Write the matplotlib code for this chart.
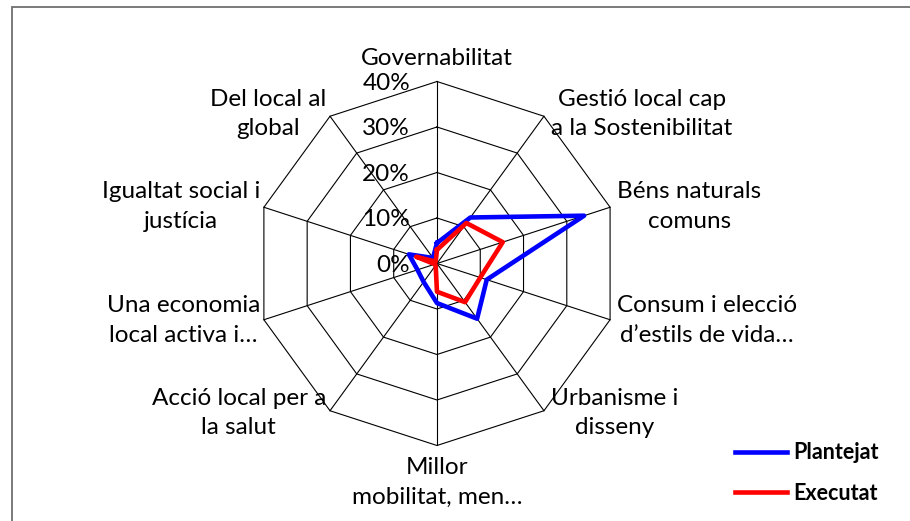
import numpy as np
import matplotlib
matplotlib.use('Agg')
import matplotlib.pyplot as plt
from matplotlib.patches import Rectangle
from matplotlib.lines import Line2D

categories = ['Governabilitat', 'Gestió local cap\na la Sostenibilitat', 'Béns naturals\ncomuns',
              'Consum i elecció\nd’estils de vida…', 'Urbanisme i\ndisseny', 'Millor\nmobilitat, men…',
              'Acció local per a\nla salut', 'Una economia\nlocal activa i…', 'Igualtat social i\njustícia',
              'Del local al\nglobal']
plantejat = [4.5, 12.5, 34.0, 11.5, 15.0, 8.7, 5.0, 4.5, 6.5, 1.5]
executat = [3.0, 11.0, 15.2, 10.0, 10.5, 6.2, 0.5, 0.5, 4.8, 0.5]
ticks = [0, 10, 20, 30, 40]
tick_labels = ['0%', '10%', '20%', '30%', '40%']

plt.rcParams['font.family'] = ['Lato', 'DejaVu Sans']
FS = 17.5

fig = plt.figure(figsize=(9.1, 5.21), dpi=100)
ax = fig.add_axes([0.2802, 0.1449, 0.4, 0.6987], projection='polar')
ax.set_theta_zero_location('N')
ax.set_theta_direction(-1)
ax.set_ylim(0, 40)
ax.axis('off')

n = len(categories)
ang = np.arange(n) * 2 * np.pi / n
closed = np.append(ang, ang[0])

# decagon grid
for t in ticks[1:]:
    ax.plot(closed, [t] * (n + 1), color='black', lw=0.8, clip_on=False)
for a in ang:
    ax.plot([a, a], [0, ticks[-1]], color='black', lw=0.8, clip_on=False)

ax.plot(closed, plantejat + plantejat[:1], color='#0000ff', lw=3.3, clip_on=False, label='Plantejat')
ax.plot(closed, executat + executat[:1], color='#ff0000', lw=3.3, clip_on=False, label='Executat')

for t, lab in zip(ticks, tick_labels):
    ax.annotate(lab, (0, t), xytext=(-27, -2), textcoords='offset pixels',
                ha='right', va='center', fontsize=FS, annotation_clip=False)

for a, lab in zip(ang, categories):
    s = np.sin(a)
    c = np.cos(a)
    if abs(s) < 1e-6:
        ha = 'center'
        va = 'bottom' if c > 0 else 'top'
        off = (0, 12) if c > 0 else (0, -12)
    elif s > 0:
        ha, va, off = 'left', 'center', (7, 3 * c)
    else:
        ha, va, off = 'right', 'center', (-4, 3 * c)
    ax.annotate(lab, (a, ticks[-1]), xytext=off, textcoords='offset pixels',
                ha=ha, va=va, multialignment='center', fontsize=FS,
                linespacing=1.5, annotation_clip=False)

handles = [Line2D([], [], color='#0000ff', lw=3.3), Line2D([], [], color='#ff0000', lw=3.3)]
fig.legend(handles, ['Plantejat', 'Executat'], loc='upper left',
           bbox_to_anchor=(716 / 910, 1 - 423 / 521), frameon=False,
           handlelength=2.4, handletextpad=0.3, labelspacing=0.9,
           prop={'size': 15.5, 'weight': 'bold'})

fig.add_artist(Rectangle((12 / 910, -0.1), 1.0, 1.1 - 7 / 521, transform=fig.transFigure,
                         fill=False, edgecolor='#6f6f6f', lw=1.3))

fig.savefig('out.png', dpi=100)
